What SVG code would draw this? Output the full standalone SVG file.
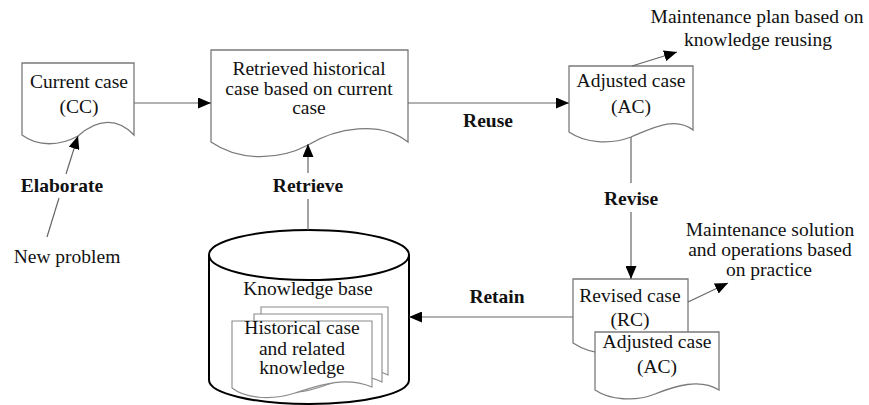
<svg xmlns="http://www.w3.org/2000/svg" width="869" height="405" viewBox="0 0 869 405">
  <style>
    .doc { fill: #fff; stroke: #7a7a7a; stroke-width: 1.3; }
    .page { fill: #fff; stroke: #8a8a8a; stroke-width: 1.1; }
    .db { fill: #fff; stroke: #000; stroke-width: 2; }
    .t { font-family: "Liberation Serif", "Times New Roman", serif; font-size: 19.5px; fill: #111; text-anchor: middle; }
    .b { font-weight: bold; }
    .link { fill: none; stroke: #666; stroke-width: 1.2; }
  </style>
  <defs>
    <marker id="arrow" markerUnits="userSpaceOnUse" markerWidth="13" markerHeight="11" refX="13" refY="5.5" orient="auto">
      <path d="M0,0 L13,5.5 L0,11 z" fill="#000"/>
    </marker>
  </defs>

  <rect width="869" height="405" fill="#fff"/>

  <!-- Current case -->
  <g id="current-case">
    <path class="doc" d="M22,63 H134 V135 C118,118 98,118 78,136 C60,146 38,147 22,135 Z"/>
    <text class="t" x="79" y="88">Current case</text>
    <text class="t" x="79" y="113">(CC)</text>
  </g>

  <!-- Retrieved historical case -->
  <g id="retrieved-case">
    <path class="doc" d="M211,50 H408 V142 C380,120 336,128 308,145 C280,160 240,162 211,142 Z"/>
    <text class="t" x="309" y="75">Retrieved historical</text>
    <text class="t" x="309" y="95">case based on current</text>
    <text class="t" x="309" y="114">case</text>
  </g>

  <!-- Adjusted case -->
  <g id="adjusted-case">
    <path class="doc" d="M569,66 H693 V130 C675,116 653,128 631,137 C610,145 585,143 569,132 Z"/>
    <text class="t" x="631" y="87">Adjusted case</text>
    <text class="t" x="631" y="113">(AC)</text>
  </g>

  <!-- Revised case with adjusted case underneath -->
  <g id="revised-case">
    <path class="doc" d="M573,279 H688 V340 C672,330 650,340 630,348 C610,356 590,354 573,343 Z"/>
    <text class="t" x="630" y="302">Revised case</text>
    <text class="t" x="630" y="326">(RC)</text>
  </g>
  <g id="revised-adjusted-case">
    <path class="doc" d="M595,332 H719 V390 C700,378 675,386 655,394 C635,402 610,400 595,390 Z"/>
    <text class="t" x="657" y="348">Adjusted case</text>
    <text class="t" x="657" y="373">(AC)</text>
  </g>

  <!-- Knowledge base -->
  <g id="knowledge-base">
    <path class="db" d="M209,255 V380 A100,24 0 0 0 409,380 V255"/>
    <ellipse class="db" cx="309" cy="255" rx="100" ry="25"/>
    <text class="t" x="308" y="295">Knowledge base</text>
    <path class="page" d="M261,307 H388 V375 C366,364 349,373 324,381 C299,389 274,386 261,376 Z"/>
    <path class="page" d="M254,314 H382 V382 C360,371 342,380 317,388 C292,396 267,393 254,383 Z"/>
    <path class="page" d="M232,321 H372 V387 C345,376 320,385 295,393 C270,401 245,398 232,388 Z"/>
    <text class="t" x="302" y="334">Historical case</text>
    <text class="t" x="302" y="355">and related</text>
    <text class="t" x="302" y="374">knowledge</text>
  </g>

  <!-- Free-standing annotations -->
  <g id="new-problem">
    <text class="t" x="67" y="263">New problem</text>
  </g>
  <g id="maintenance-plan">
    <text class="t" x="757" y="23">Maintenance plan based on</text>
    <text class="t" x="758" y="46">knowledge reusing</text>
  </g>
  <g id="maintenance-solution">
    <text class="t" x="770" y="236">Maintenance solution</text>
    <text class="t" x="770" y="256">and operations based</text>
    <text class="t" x="769" y="276">on practice</text>
  </g>

  <!-- Connectors -->
  <g id="connectors">
    <path class="link" d="M47,237 L59,198"/>
    <path class="link" d="M66,174 L78,136" marker-end="url(#arrow)"/>
    <path class="link" d="M134,103 H211" marker-end="url(#arrow)"/>
    <path class="link" d="M408,103 H569" marker-end="url(#arrow)"/>
    <path class="link" d="M632,66 L677,52" marker-end="url(#arrow)"/>
    <path class="link" d="M631,137 V183"/>
    <path class="link" d="M631,212 V279" marker-end="url(#arrow)"/>
    <path class="link" d="M688,302 L728,283" marker-end="url(#arrow)"/>
    <path class="link" d="M573,317 H409" marker-end="url(#arrow)"/>
    <path class="link" d="M308,230 V199"/>
    <path class="link" d="M308,173 V144" marker-end="url(#arrow)"/>

    <text class="t b" x="62" y="192">Elaborate</text>
    <text class="t b" x="308" y="192">Retrieve</text>
    <text class="t b" x="488" y="127">Reuse</text>
    <text class="t b" x="631" y="205">Revise</text>
    <text class="t b" x="497" y="303">Retain</text>
  </g>
</svg>
